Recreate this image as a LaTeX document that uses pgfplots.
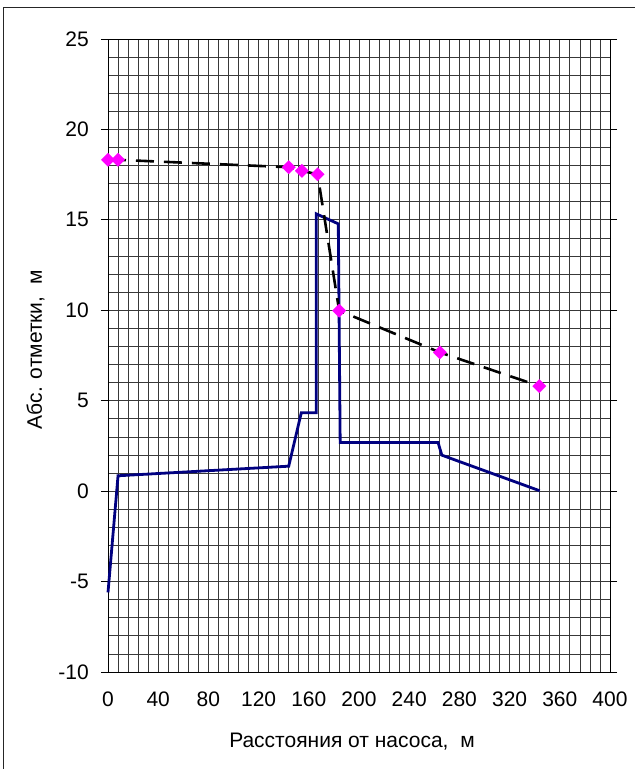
\documentclass[border=0pt]{standalone}
\usepackage{fontspec}
\setmainfont{Liberation Sans}
\usepackage{pgfplots}
\pgfplotsset{compat=1.18}
\definecolor{navyline}{RGB}{0,0,128}
\definecolor{magentamark}{RGB}{255,0,255}
\pgfplotstableread{
x y
0 -5.6
8 0.85
144 1.38
154 4.33
166 4.33
166 15.33
183.5 14.78
185 2.69
263 2.69
266 1.99
344 0.02
}\profile
\pgfplotstableread{
x y
0 18.32
8 18.32
144 17.91
154.5 17.71
167 17.52
184.2 9.98
264.5 7.67
343.7 5.81
}\pressure
\begin{document}
\fontsize{21bp}{25bp}\selectfont
\begin{tikzpicture}
\useasboundingbox (-108bp,-97bp) rectangle (527bp,672bp);
\draw[line width=0.8bp, black!85] (-105bp,-97bp) -- (-105bp,665bp) -- (527bp,665bp);
\begin{axis}[
  at={(0,0)}, anchor=south west,
  scale only axis, width=502bp, height=633bp,
  xmin=0, xmax=400, ymin=-10, ymax=25,
  xtick distance=40, ytick distance=5,
  minor x tick num=4, minor y tick num=4,
  grid=both,
  major grid style={black!78, line width=0.75bp},
  minor grid style={black!78, line width=0.75bp},
  axis line style={black, line width=0.9bp},
  tick align=outside,
  xtick style={draw=none},
  minor tick style={draw=none},
  ytick style={black, line width=0.9bp},
  major tick length=7bp,
  /pgf/number format/assume math mode=true,
  tick label style={font=\fontsize{21bp}{25bp}\selectfont},
  yticklabel style={inner sep=0pt, anchor=east, xshift=-12bp},
  xticklabel style={inner sep=0pt, anchor=north, yshift=-13bp},
  xlabel={Расстояния от насоса,~~м},
  ylabel={Абс. отметки,~~м},
  xlabel style={at={(axis description cs:0.486,-0.1185)}, anchor=base, inner sep=0pt},
  ylabel style={at={(axis description cs:-0.1315,0.509)}, anchor=base, inner sep=0pt},
  label style={font=\fontsize{21bp}{25bp}\selectfont},
  clip=false,
]
\addplot[navyline, line width=2.8bp, line join=miter] table[x=x,y=y] {\profile};
\addplot[black, line width=2.6bp, dash pattern=on 18bp off 10bp,
  mark=square*, mark size=4.8bp,
  mark options={solid, fill=magentamark, draw=magentamark, rotate=45, line width=0.1bp}]
  table[x=x,y=y] {\pressure};
\end{axis}
\end{tikzpicture}
\end{document}
